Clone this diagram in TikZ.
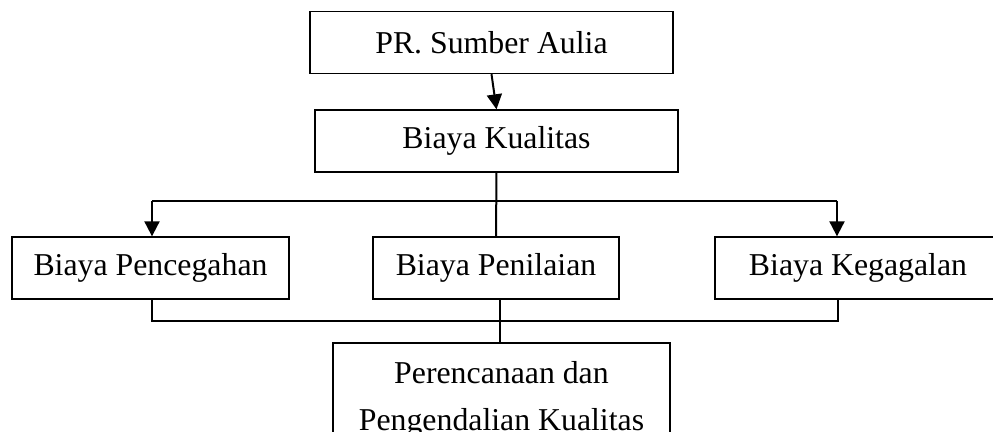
\documentclass[tikz,border=0pt]{standalone}
\usepackage{fontspec}
\setmainfont{Liberation Serif}
\usetikzlibrary{arrows.meta}

\begin{document}
\begin{tikzpicture}[x=0.5pt, y=-0.5pt,
    kotak/.style={draw, line width=0.65pt, inner sep=0pt, minimum height=31pt,
      font=\fontsize{15.9}{23.5}\selectfont},
    garis/.style={line width=1pt},
    panah/.style={line width=1pt, -{Triangle[length=7.5pt, width=7.5pt]}}]
      \clip (0,0) rectangle (993,432);

      \node[kotak, minimum width=181.5pt] (sumber) at (491.5,42.5) {PR. Sumber Aulia};
      \node[kotak, minimum width=181.5pt] (kualitas) at (496.5,141) {Biaya Kualitas};
      \node[kotak, minimum width=138.5pt] (cegah) at (150.5,268) {Biaya Pencegahan};
      \node[kotak, minimum width=123pt] (nilai) at (496,268) {Biaya Penilaian};
      \node[kotak, minimum width=143pt] (gagal) at (858,268) {Biaya Kegagalan};
      \node[kotak, minimum width=168.5pt, minimum height=56pt, align=center] (rencana) at (501.5,399)
        {Perencanaan dan\\Pengendalian Kualitas};

      \coordinate (bagiL) at (152,201);
      \coordinate (bagiR) at (837,201);
      \coordinate (gabungL) at (152,321);
      \coordinate (gabungR) at (838,321);
      \coordinate (tengah) at (500,321);

      \draw[panah] (sumber.south) -- (kualitas.north);
      \draw[garis] (kualitas.south) -- (nilai.north);
      \draw[garis] (bagiL) -- (bagiR);
      \draw[panah] (bagiL) -- (bagiL |- cegah.north);
      \draw[panah] (bagiR) -- (bagiR |- gagal.north);

      \draw[garis] (gabungL |- cegah.south) -- (gabungL) -- (gabungR) -- (gabungR |- gagal.south);
      \draw[garis] (tengah |- nilai.south) -- (tengah |- rencana.north);

    \end{tikzpicture}
\end{document}
